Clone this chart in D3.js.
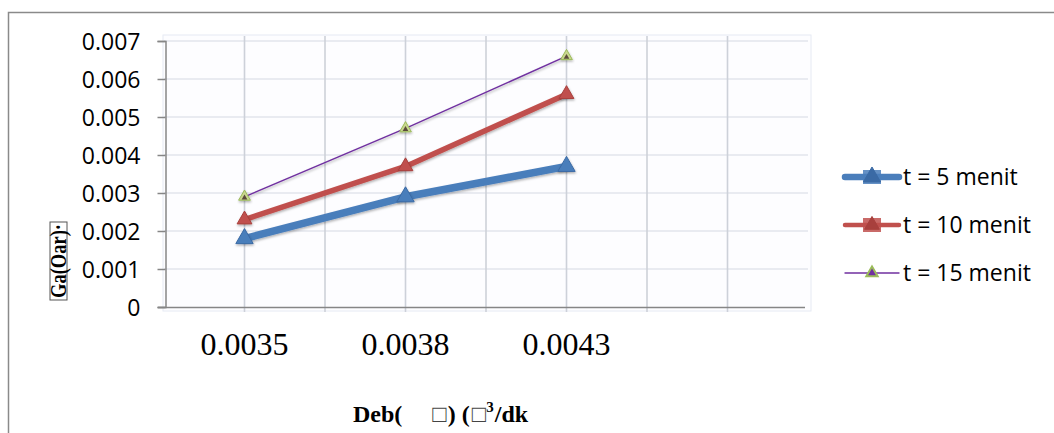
<!DOCTYPE html>
<html>
<head>
<meta charset="utf-8">
<script src="https://cdn.jsdelivr.net/npm/d3@7"></script>
<style>
  html, body { margin: 0; padding: 0; background: #ffffff; }
  svg { display: block; }
</style>
</head>
<body>
<svg id="chart" width="1054" height="433"></svg>
<script>
// Flow rate categories (the last slot is an empty category)
const categories = ["0.0035", "0.0038", "0.0043", ""];
const yTicks = [0, 0.001, 0.002, 0.003, 0.004, 0.005, 0.006, 0.007];
const yTickLabels = ["0", "0.001", "0.002", "0.003", "0.004", "0.005", "0.006", "0.007"];

// Values per series, one per filled category
const seriesNames = ["t = 5 menit", "t = 10 menit", "t = 15 menit"];
const t5 = [0.0018, 0.0029, 0.0037];
const t10 = [0.0023, 0.0037, 0.0056];
const t15 = [0.0029, 0.0047, 0.0066];

const svg = d3.select("#chart");

const styles = [
  { color: "#4a7ebb", width: 7.5, marker: 130, mfill: "#4a7ebb", mstroke: "#3a6aa5", inner: null },
  { color: "#c0504d", width: 5.5, marker: 95, mfill: "#c0504d", mstroke: "#a8403d", inner: null },
  { color: "#7030a0", width: 1.4, marker: 60, mfill: "#c9d68f", mstroke: "#9bbb59", inner: "#5a4a3a" }
];

// soft shadow under series lines
const defs = svg.append("defs");
const f = defs.append("filter").attr("id", "shadow")
  .attr("x", "-10%").attr("y", "-30%").attr("width", "130%").attr("height", "170%");
f.append("feDropShadow").attr("dx", 0.5).attr("dy", 1.5)
  .attr("stdDeviation", 1.2).attr("flood-color", "#000").attr("flood-opacity", 0.3);

// outer chart frame
svg.append("rect")
  .attr("x", 8.5).attr("y", 12.5).attr("width", 1100).attr("height", 500)
  .attr("fill", "none").attr("stroke", "#8a8a8a").attr("stroke-width", 1.5);

const x = d3.scaleBand().domain(categories).range([164, 808]).paddingInner(0).paddingOuter(0);
const y = d3.scaleLinear().domain([0, 0.007]).range([307, 41]);
const cx = c => x(c) + x.bandwidth() / 2;

// plot area background
svg.append("rect")
  .attr("x", 163).attr("y", 35).attr("width", 648).attr("height", 276)
  .attr("fill", "#fdfdff").attr("stroke", "#e6eaf3").attr("stroke-width", 1);

// horizontal gridlines
svg.append("g").selectAll("line").data(yTicks.slice(1)).join("line")
  .attr("x1", 164).attr("x2", 808)
  .attr("y1", d => y(d)).attr("y2", d => y(d))
  .attr("stroke", "#e2e5ec").attr("stroke-width", 1.5);

// vertical gridlines: at each category centre and between categories
const vLines = [];
categories.forEach((c, i) => {
  vLines.push(cx(c));
  if (i > 0) vLines.push(x(c));
});
svg.append("g").selectAll("line").data(vLines).join("line")
  .attr("x1", d => d).attr("x2", d => d)
  .attr("y1", 36).attr("y2", 312)
  .attr("stroke", "#cdd1d9").attr("stroke-width", 1.6);

// y axis
const yAxis = d3.axisLeft(y).tickValues(yTicks).tickSize(8)
  .tickFormat((d, i) => yTickLabels[i]);
const gy = svg.append("g").attr("transform", "translate(165.5,0)").call(yAxis);
gy.select(".domain").attr("stroke", "#868686").attr("stroke-width", 1.5);
gy.selectAll(".tick line").attr("stroke", "#868686").attr("stroke-width", 1.5);
gy.selectAll(".tick text")
  .attr("x", -25).attr("dy", "0.36em")
  .attr("font-family", "'Open Sans', sans-serif").attr("font-size", 23).attr("fill", "#000");

// x axis line
svg.append("line").attr("x1", 158).attr("x2", 805).attr("y1", 307.5).attr("y2", 307.5)
  .attr("stroke", "#868686").attr("stroke-width", 1.5);

// x tick labels
svg.append("g").selectAll("text").data(categories.filter(c => c !== "")).join("text")
  .attr("x", d => cx(d)).attr("y", 355)
  .attr("text-anchor", "middle")
  .attr("font-family", "'Liberation Serif', 'Times New Roman', serif")
  .attr("font-size", 32).attr("fill", "#000")
  .text(d => d);

// series
const allSeries = [t5, t10, t15];
const line = d3.line().x((d, i) => cx(categories[i])).y(d => y(d));

allSeries.forEach((vals, si) => {
  const st = styles[si];
  svg.append("path").datum(vals)
    .attr("d", line)
    .attr("fill", "none").attr("stroke", st.color).attr("stroke-width", st.width)
    .attr("stroke-linejoin", "round").attr("stroke-linecap", "round")
    .attr("filter", "url(#shadow)");
});

allSeries.forEach((vals, si) => {
  const st = styles[si];
  const g = svg.append("g");
  g.selectAll("path.m").data(vals).join("path").attr("class", "m")
    .attr("transform", (d, i) => `translate(${cx(categories[i])},${y(d)})`)
    .attr("d", d3.symbol(d3.symbolTriangle, st.marker)())
    .attr("fill", st.mfill).attr("stroke", st.mstroke).attr("stroke-width", 1)
    .attr("filter", "url(#shadow)");
  if (st.inner) {
    g.selectAll("path.i").data(vals).join("path").attr("class", "i")
      .attr("transform", (d, i) => `translate(${cx(categories[i])},${y(d) + 1})`)
      .attr("d", d3.symbol(d3.symbolTriangle, 14)())
      .attr("fill", st.inner);
  }
});

// legend
const legendY = [177, 225, 273];
const lg = svg.append("g");
seriesNames.forEach((name, i) => {
  const st = styles[i];
  const ly = legendY[i];
  lg.append("line").attr("x1", 845).attr("x2", 899).attr("y1", ly).attr("y2", ly)
    .attr("stroke", st.color).attr("stroke-width", i === 2 ? 1.4 : st.width - 1)
    .attr("stroke-linecap", "round");
  if (i < 2) {
    lg.append("rect").attr("x", 863).attr("y", ly - 7).attr("width", 18).attr("height", 14)
      .attr("fill", st.color).attr("opacity", 0.85);
  }
  lg.append("path").attr("transform", `translate(872,${ly})`)
    .attr("d", d3.symbol(d3.symbolTriangle, i === 2 ? 55 : st.marker)())
    .attr("fill", i === 2 ? "#7030a0" : st.mstroke)
    .attr("stroke", i === 2 ? "#9bbb59" : st.mstroke).attr("stroke-width", i === 2 ? 2 : 1);
  lg.append("text").attr("x", 903).attr("y", ly + 8)
    .attr("font-family", "'Open Sans', sans-serif").attr("font-size", 23).attr("fill", "#000")
    .text(name);
});

// x axis title
const xt = svg.append("text").attr("x", 353).attr("y", 422)
  .attr("font-family", "'Liberation Serif', 'Times New Roman', serif")
  .attr("font-size", 24).attr("font-weight", "bold").attr("fill", "#000");
xt.append("tspan").text("Deb(");
xt.append("tspan").attr("dx", 30).attr("font-weight", "normal").attr("fill", "#444").text("□");
xt.append("tspan").attr("dx", 1).text(") (");
xt.append("tspan").attr("dx", 2).attr("font-weight", "normal").attr("fill", "#444").text("□");
xt.append("tspan").attr("dy", -10).attr("font-size", 15).text("3");
xt.append("tspan").attr("dy", 10).attr("dx", 1).text("/dk");

// y axis title (rotated, squeezed glyphs inside a box)
const yt = svg.append("g").attr("transform", "translate(67,300) rotate(-90)");
yt.append("rect").attr("x", 0).attr("y", -17).attr("width", 78).attr("height", 17)
  .attr("fill", "none").attr("stroke", "#555").attr("stroke-width", 1);
yt.append("text").attr("x", 2).attr("y", -1)
  .attr("textLength", 74).attr("lengthAdjust", "spacingAndGlyphs")
  .attr("font-family", "'Liberation Serif', 'Times New Roman', serif")
  .attr("font-size", 24).attr("font-weight", "bold").attr("fill", "#000")
  .text("Ga(Oar)·");
</script>
</body>
</html>
